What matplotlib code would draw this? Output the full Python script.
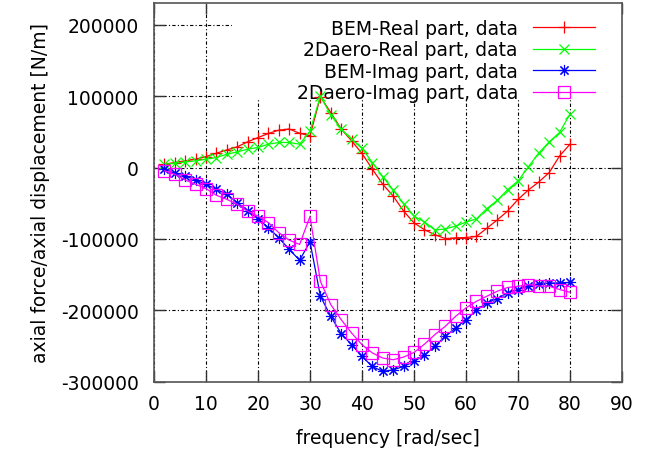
import matplotlib
matplotlib.use("Agg")
import matplotlib.pyplot as plt
from matplotlib.patches import Rectangle

plt.rcParams['font.family'] = ['DejaVu Sans']

freq = [2, 4, 6, 8, 10, 12, 14, 16, 18, 20,
        22, 24, 26, 28, 30, 32, 34, 36, 38, 40,
        42, 44, 46, 48, 50, 52, 54, 56, 58, 60,
        62, 64, 66, 68, 70, 72, 74, 76, 78, 80]

bem_real = [4600, 7000, 9300, 11700, 15400, 20000, 24700, 29000, 36000, 42000,
            47700, 52400, 54000, 48000, 44500, 99000, 77000, 54000, 37500, 19700,
            -2400, -23500, -40000, -61000, -77500, -87000, -94000, -99500, -98500, -98000,
            -96500, -85000, -73500, -61000, -44700, -31400, -20200, -7000, 16300, 32700]

aero_real = [4600, 6000, 7900, 9300, 11700, 14000, 18700, 21900, 25700, 28100,
             32700, 35100, 35100, 32700, 51000, 100000, 73500, 53800, 39700, 26700,
             7000, -13000, -31500, -50500, -68000, -76000, -87500, -86000, -82000, -76400,
             -72000, -57500, -46000, -31000, -18800, 1000, 20500, 36000, 49200, 74900]

bem_imag = [-2400, -8000, -11800, -17400, -23500, -30500, -37500, -49000, -61000, -71600,
            -84300, -98300, -114700, -129800, -104000, -180300, -208400, -232700, -248200, -264600,
            -278700, -285700, -283300, -278700, -271600, -263000, -250000, -236500, -224700, -213100,
            -200000, -189600, -184000, -175600, -170900, -166300, -162500, -162000, -161500, -161000]

aero_imag = [-4700, -9400, -17400, -23500, -29500, -38900, -44500, -51500, -61000, -68000,
             -77200, -91300, -101700, -107700, -68500, -159300, -192000, -213100, -231800, -248200,
             -259800, -266900, -269200, -265500, -259000, -247500, -234100, -222500, -208400, -196600,
             -187400, -180300, -173300, -168000, -166300, -164000, -166000, -166300, -170900, -174700]

labels = ["BEM-Real part, data", "2Daero-Real part, data",
          "BEM-Imag part, data", "2Daero-Imag part, data"]
xticks = [0, 10, 20, 30, 40, 50, 60, 70, 80, 90]
yticks = [-300000, -200000, -100000, 0, 100000, 200000]

fig = plt.figure(figsize=(6.51, 4.52), dpi=100)
ax = fig.add_axes([154 / 651, 1 - 382.7 / 452, 468 / 651, 378.7 / 452])

FS = 13.5
lw = 0.9
ms = 8
ax.plot(freq, bem_real, color='#ff0000', lw=lw, marker='+', ms=ms * 1.1, mew=0.9,
        label=labels[0], zorder=3)
ax.plot(freq, aero_real, color='#00ff00', lw=lw, marker='x', ms=ms * 0.9, mew=0.9,
        label=labels[1], zorder=3)
ax.plot(freq, bem_imag, color='#0000ff', lw=lw, marker=(8, 2, 0), ms=ms, mew=0.8,
        label=labels[2], zorder=3)
ax.plot(freq, aero_imag, color='#ff00ff', lw=lw, marker='s', ms=ms, mew=0.9,
        mfc='none', label=labels[3], zorder=3)

ax.set_xlim(0, 90)
ax.set_ylim(-300000, 230500)
ax.set_xticks(xticks)
ax.set_yticks(yticks)
ax.set_xticklabels([str(v) for v in xticks])
ax.set_yticklabels([str(v) for v in yticks])

ax.grid(True, color='black', lw=0.8, linestyle=(0, (3, 2, 1, 2)))
ax.set_axisbelow(True)

ax.tick_params(direction='in', top=True, right=True, length=8, width=1,
               labelsize=FS, color='#333333')
ax.tick_params(axis='x', pad=9)
ax.tick_params(axis='y', pad=11)
for s in ax.spines.values():
    s.set_color('#555555')
    s.set_linewidth(1.2)

# key area is kept clear of grid lines
ax.add_patch(Rectangle((0.1667, 0.744), 1 - 0.1667, 1 - 0.744,
                       transform=ax.transAxes, facecolor='white',
                       edgecolor='none', zorder=1))

leg = ax.legend(loc='upper right', bbox_to_anchor=(0.942, 0.958),
                frameon=False, markerfirst=False, fontsize=FS,
                handlelength=3.3, handletextpad=0.8, labelspacing=0.13,
                borderpad=0, borderaxespad=0)
leg.set_zorder(2)

ax.set_xlabel("frequency [rad/sec]", fontsize=FS, labelpad=11)
ax.set_ylabel("axial force/axial displacement [N/m]", fontsize=FS, labelpad=8)

fig.savefig("out.png", dpi=100)
